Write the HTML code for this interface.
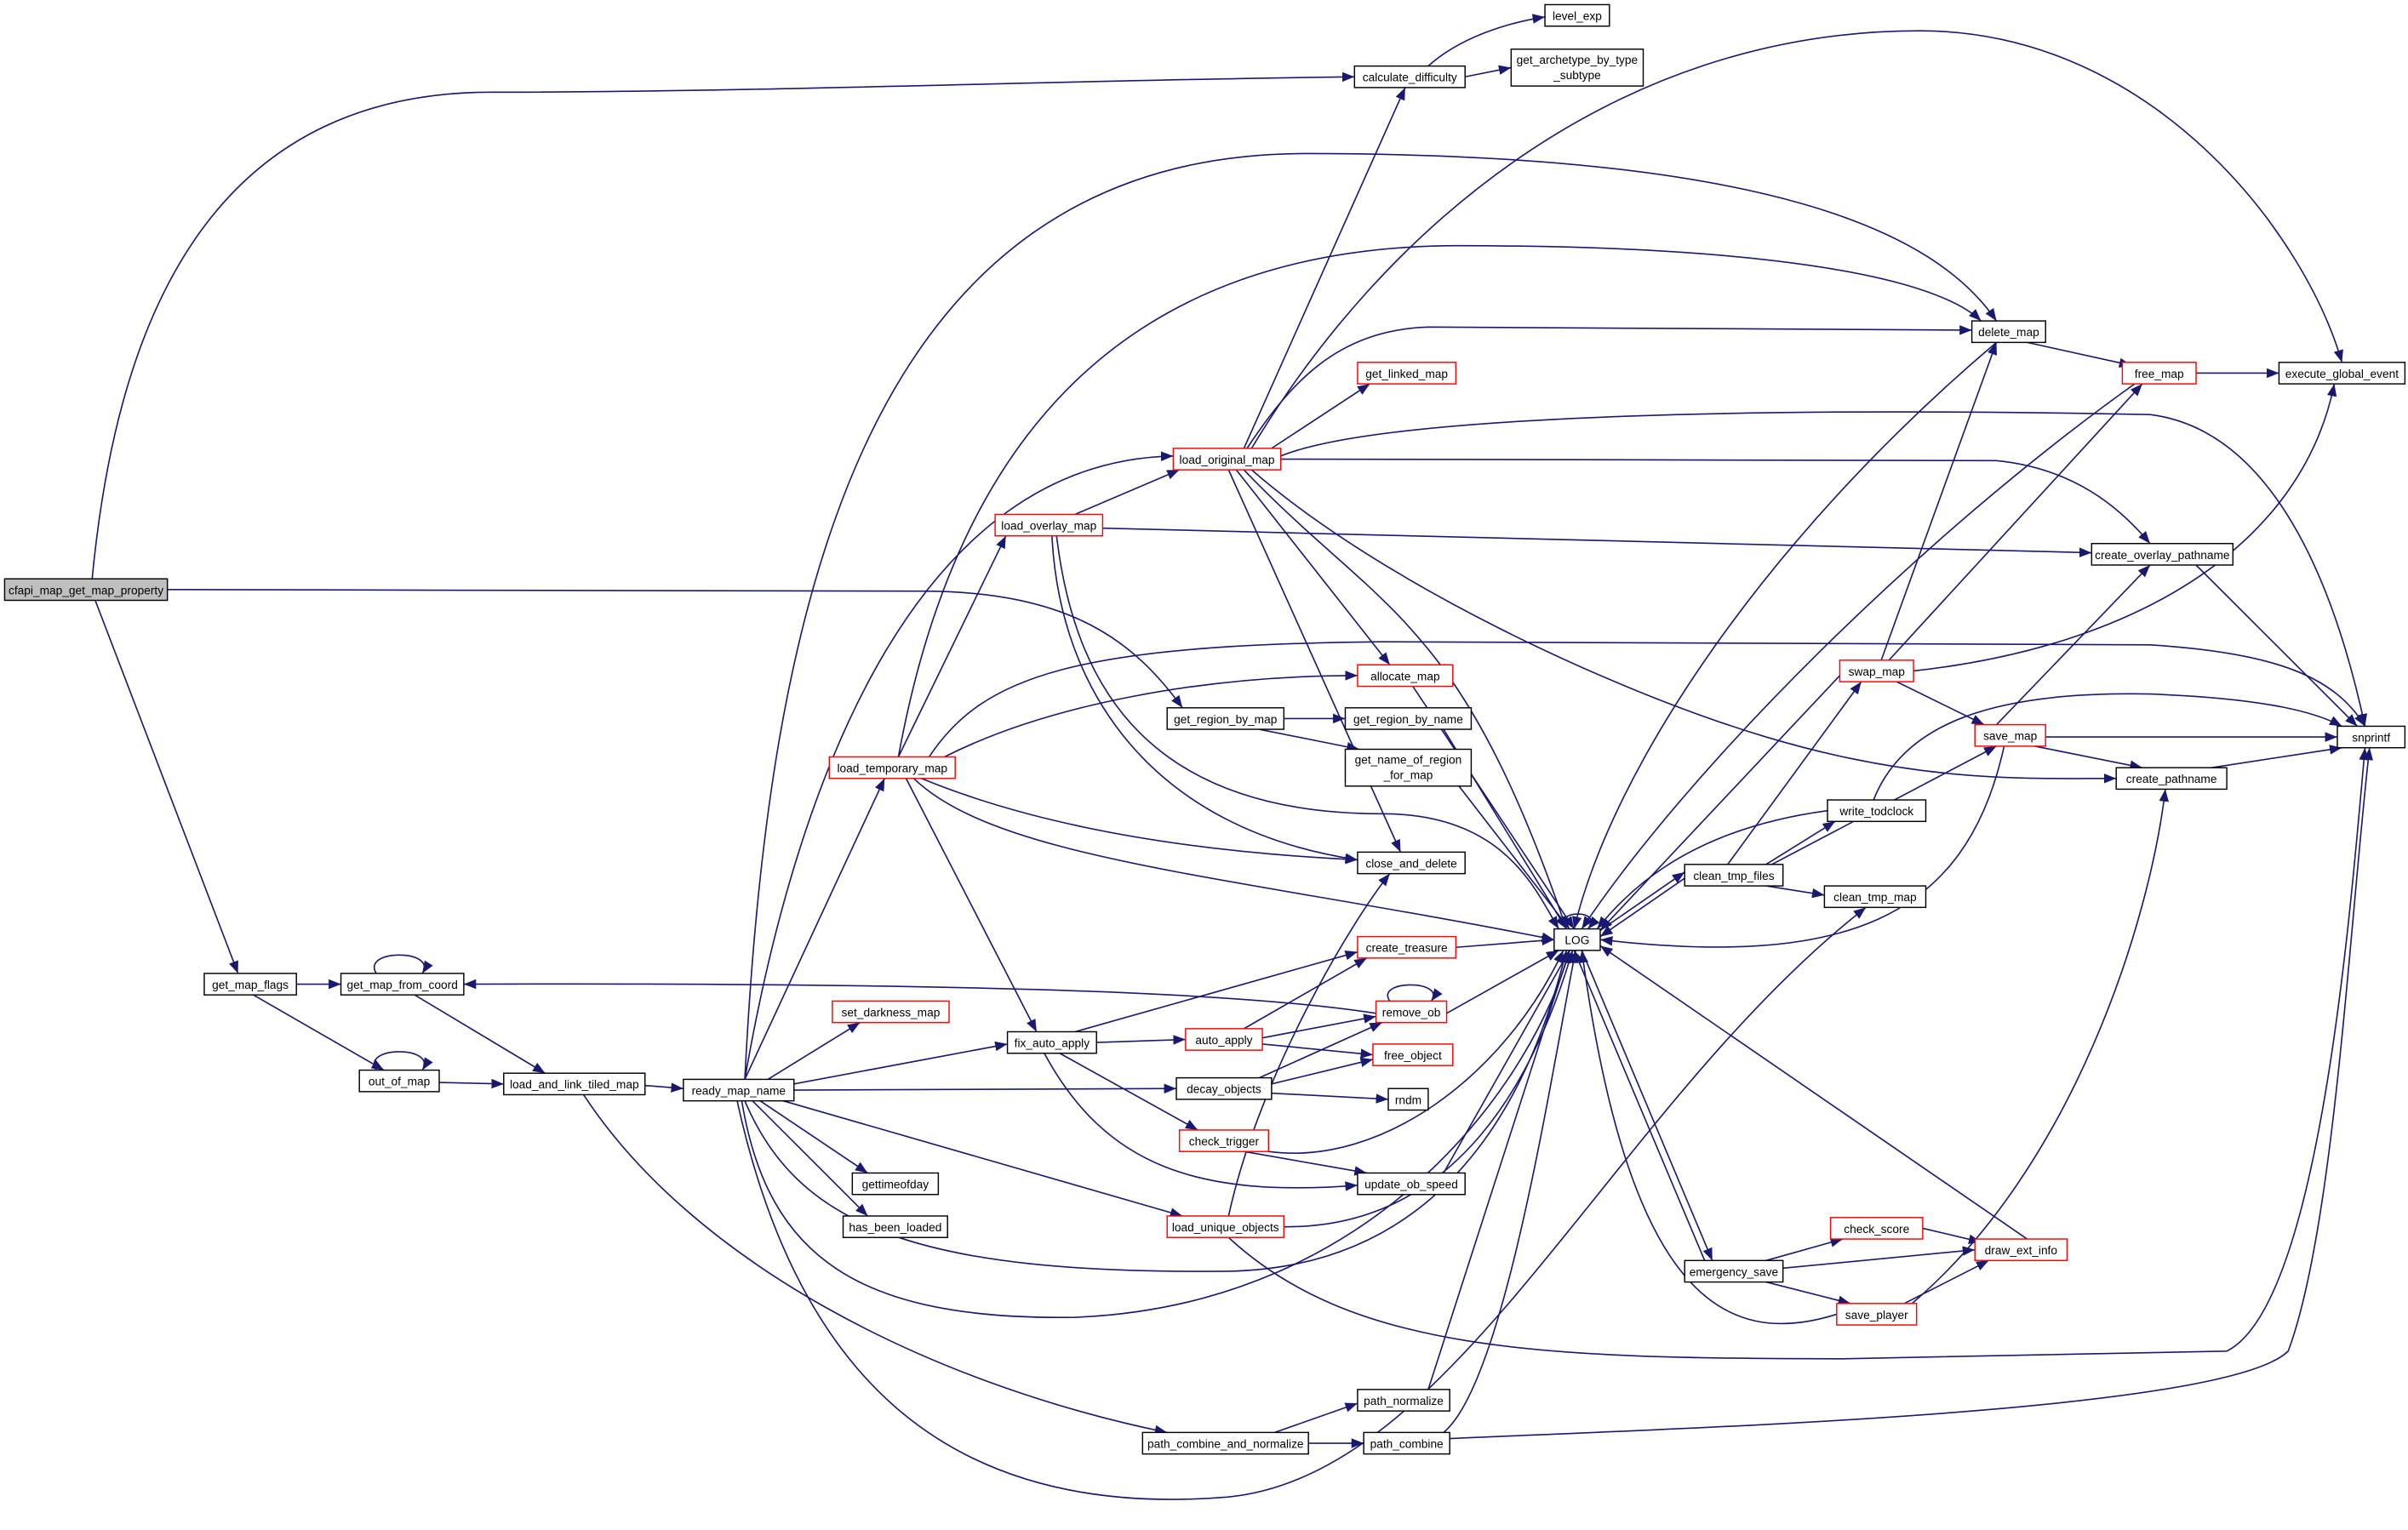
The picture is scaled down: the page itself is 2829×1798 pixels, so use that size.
<!DOCTYPE html>
<html><head><meta charset="utf-8"><style>
html,body{margin:0;padding:0;background:#fff;}
svg{display:block;}
text{font-family:"Liberation Sans",sans-serif;font-size:7.6px;fill:#000;}
.e{fill:none;stroke:#191970;stroke-width:0.9;marker-end:url(#a);}
.n{fill:#fff;stroke:#000;stroke-width:0.8;}
.r{fill:#fff;stroke:#ff0000;stroke-width:0.8;}
.g{fill:#bfbfbf;stroke:#000;stroke-width:0.8;}
</style></head><body>
<svg width="2829" height="1798" viewBox="0 0 1568 996.5" xmlns="http://www.w3.org/2000/svg">
<defs><marker id="a" viewBox="0 0 10 8" refX="10" refY="4" markerWidth="8" markerHeight="6.4" markerUnits="userSpaceOnUse" orient="auto"><path d="M0,0 L10,4 L0,8 z" fill="#191970"/></marker></defs>
<g>
<path class="e" d="M60,377 C75,220 130,60 320,60 C500,60 700,52 882,50"/>
<path class="e" d="M109,384 L600,385 C700,385 740,420 770,461"/>
<path class="e" d="M62,391 L155,634"/>
<path class="e" d="M930,43 C950,25 980,15 1006,11"/>
<path class="e" d="M954,50 L984,44"/>
<path class="e" d="M1320,223 L1388,238"/>
<path class="e" d="M1430,243 L1484,243"/>
<path class="e" d="M810,292 L915,57"/>
<path class="e" d="M485,703 C500,400 560,100 850,100 C1150,100 1260,150 1300,209"/>
<path class="e" d="M585,493 C620,300 720,160 950,160 C1150,160 1260,180 1290,209"/>
<path class="e" d="M812,292 C840,250 870,215 930,213 L1284,215"/>
<path class="e" d="M815,292 C900,150 1050,20 1250,20 C1400,20 1500,150 1525,236"/>
<path class="e" d="M828,292 L892,250"/>
<path class="e" d="M834,297 C900,270 1150,265 1400,270 C1480,280 1520,380 1540,473"/>
<path class="e" d="M834,299 L1300,300 C1350,305 1380,330 1400,354"/>
<path class="e" d="M815,306 C900,380 1050,450 1150,480 C1250,510 1320,507 1378,507"/>
<path class="e" d="M805,306 L905,433"/>
<path class="e" d="M810,306 C900,400 950,400 1020,605"/>
<path class="e" d="M800,306 L912,555"/>
<path class="e" d="M700,335 L768,306"/>
<path class="e" d="M718,344 L1362,360"/>
<path class="e" d="M685,349 C690,450 750,540 884,560"/>
<path class="e" d="M688,349 C700,450 750,530 900,530 C980,530 1000,580 1015,605"/>
<path class="e" d="M485,703 C520,500 600,300 764,297"/>
<path class="e" d="M585,493 L655,349"/>
<path class="e" d="M485,703 L576,507"/>
<path class="e" d="M615,493 C680,460 780,440 884,440"/>
<path class="e" d="M605,493 C640,440 700,420 900,418 L1400,420 C1480,425 1520,440 1540,473"/>
<path class="e" d="M600,507 C680,540 780,555 884,560"/>
<path class="e" d="M595,507 C650,560 800,570 1012,612"/>
<path class="e" d="M590,507 L675,672"/>
<path class="e" d="M836,468 L876,468"/>
<path class="e" d="M820,475 L885,488"/>
<path class="e" d="M940,475 L1020,605"/>
<path class="e" d="M950,512 L1022,605"/>
<path class="e" d="M920,447 L1025,605"/>
<path class="e" d="M1300,223 C1150,350 1050,500 1025,605"/>
<path class="e" d="M1390,250 C1250,350 1100,500 1030,605"/>
<path class="e" d="M1225,430 L1300,223"/>
<path class="e" d="M1230,430 L1395,250"/>
<path class="e" d="M1246,437 C1400,420 1500,350 1520,250"/>
<path class="e" d="M1235,444 L1292,472"/>
<path class="e" d="M1125,563 L1212,444"/>
<path class="e" d="M1198,440 L1042,606"/>
<path class="e" d="M1300,472 L1400,368"/>
<path class="e" d="M1332,480 L1522,480"/>
<path class="e" d="M1325,486 L1395,500"/>
<path class="e" d="M1305,486 C1280,600 1200,630 1042,612"/>
<path class="e" d="M1430,368 L1535,473"/>
<path class="e" d="M1440,500 L1525,487"/>
<path class="e" d="M1220,521 C1240,470 1300,450 1400,452 C1480,455 1510,465 1525,473"/>
<path class="e" d="M1150,563 L1195,535"/>
<path class="e" d="M1150,565 L1300,486"/>
<path class="e" d="M1150,577 L1188,583"/>
<path class="e" d="M1097,572 L1042,610"/>
<path class="e" d="M1042,606 L1097,568"/>
<path class="e" d="M1020,605 C1010,592 1045,592 1034,605"/>
<path class="e" d="M1030,619 L1115,821"/>
<path class="e" d="M1110,821 L1025,619"/>
<path class="e" d="M1190,528 C1100,540 1060,580 1040,605"/>
<path class="e" d="M948,617 L1012,612"/>
<path class="e" d="M942,660 L1015,619"/>
<path class="e" d="M905,652 C895,638 942,638 932,652"/>
<path class="e" d="M193,641 L222,641"/>
<path class="e" d="M165,648 L250,697"/>
<path class="e" d="M245,634 C235,618 285,618 275,634"/>
<path class="e" d="M270,648 L355,699"/>
<path class="e" d="M245,697 C235,681 285,681 275,697"/>
<path class="e" d="M286,705 L328,706"/>
<path class="e" d="M896,660 C800,645 600,640 302,641"/>
<path class="e" d="M420,707 L445,709"/>
<path class="e" d="M380,713 C450,820 600,900 760,933"/>
<path class="e" d="M500,703 L560,666"/>
<path class="e" d="M517,706 L656,680"/>
<path class="e" d="M517,710 L766,709"/>
<path class="e" d="M495,717 L565,764"/>
<path class="e" d="M490,717 L565,792"/>
<path class="e" d="M510,717 L770,792"/>
<path class="e" d="M485,717 C520,800 600,830 800,828 C950,825 1000,700 1020,619"/>
<path class="e" d="M483,717 C500,820 560,860 700,858 C900,850 1000,700 1022,619"/>
<path class="e" d="M480,717 C520,900 620,990 800,975 C950,960 1050,720 1215,591"/>
<path class="e" d="M800,806 C880,880 1000,885 1200,885 L1450,880 C1510,850 1530,600 1540,487"/>
<path class="e" d="M700,672 L884,620"/>
<path class="e" d="M714,679 L772,677"/>
<path class="e" d="M690,686 L780,736"/>
<path class="e" d="M680,686 C720,760 780,780 884,772"/>
<path class="e" d="M810,670 L890,624"/>
<path class="e" d="M822,676 L896,662"/>
<path class="e" d="M822,680 L894,687"/>
<path class="e" d="M820,702 L900,666"/>
<path class="e" d="M828,706 L894,690"/>
<path class="e" d="M828,712 L904,716"/>
<path class="e" d="M826,750 C900,760 980,700 1018,619"/>
<path class="e" d="M810,750 L890,764"/>
<path class="e" d="M940,764 L1022,619"/>
<path class="e" d="M800,792 C820,700 880,600 905,569"/>
<path class="e" d="M836,799 C950,800 1000,700 1024,619"/>
<path class="e" d="M1150,821 L1200,807"/>
<path class="e" d="M1161,826 L1286,814"/>
<path class="e" d="M1150,835 L1205,849"/>
<path class="e" d="M1252,800 L1290,809"/>
<path class="e" d="M1240,849 L1295,821"/>
<path class="e" d="M1320,807 L1042,616"/>
<path class="e" d="M1196,856 C1120,880 1060,840 1030,619"/>
<path class="e" d="M1245,849 C1350,760 1400,600 1410,514"/>
<path class="e" d="M830,933 L884,914"/>
<path class="e" d="M852,940 L888,940"/>
<path class="e" d="M930,905 L1022,619"/>
<path class="e" d="M940,933 C980,900 1010,700 1026,619"/>
<path class="e" d="M944,937 C1100,930 1450,920 1490,880 C1520,800 1530,600 1543,487"/>
</g>
<g text-anchor="middle">
<rect class="g" x="3" y="377" width="106" height="14"/><text x="56" y="387">cfapi_map_get_map_property</text>
<rect class="n" x="882" y="43" width="72" height="14"/><text x="918" y="53">calculate_difficulty</text>
<rect class="n" x="1006" y="3" width="42" height="14"/><text x="1027" y="13">level_exp</text>
<rect class="n" x="984" y="32" width="86" height="24"/><text x="1027" y="41.5">get_archetype_by_type</text><text x="1027" y="51.5">_subtype</text>
<rect class="n" x="1284" y="209" width="48" height="14"/><text x="1308" y="219">delete_map</text>
<rect class="n" x="1484" y="236" width="82" height="14"/><text x="1525" y="246">execute_global_event</text>
<rect class="r" x="1382" y="236" width="48" height="14"/><text x="1406" y="246">free_map</text>
<rect class="r" x="884" y="236" width="64" height="14"/><text x="916" y="246">get_linked_map</text>
<rect class="r" x="764" y="292" width="70" height="14"/><text x="799" y="302">load_original_map</text>
<rect class="r" x="648" y="335" width="70" height="14"/><text x="683" y="345">load_overlay_map</text>
<rect class="n" x="1362" y="354" width="92" height="14"/><text x="1408" y="364">create_overlay_pathname</text>
<rect class="r" x="884" y="433" width="62" height="14"/><text x="915" y="443">allocate_map</text>
<rect class="r" x="1198" y="430" width="48" height="14"/><text x="1222" y="440">swap_map</text>
<rect class="n" x="760" y="461" width="76" height="14"/><text x="798" y="471">get_region_by_map</text>
<rect class="n" x="876" y="461" width="82" height="14"/><text x="917" y="471">get_region_by_name</text>
<rect class="n" x="876" y="488" width="82" height="24"/><text x="917" y="497.5">get_name_of_region</text><text x="917" y="507.5">_for_map</text>
<rect class="r" x="540" y="493" width="82" height="14"/><text x="581" y="503">load_temporary_map</text>
<rect class="r" x="1286" y="472" width="46" height="14"/><text x="1309" y="482">save_map</text>
<rect class="n" x="1522" y="473" width="44" height="14"/><text x="1544" y="483">snprintf</text>
<rect class="n" x="1378" y="500" width="72" height="14"/><text x="1414" y="510">create_pathname</text>
<rect class="n" x="1190" y="521" width="64" height="14"/><text x="1222" y="531">write_todclock</text>
<rect class="n" x="884" y="555" width="70" height="14"/><text x="919" y="565">close_and_delete</text>
<rect class="n" x="1097" y="563" width="64" height="14"/><text x="1129" y="573">clean_tmp_files</text>
<rect class="n" x="1188" y="577" width="66" height="14"/><text x="1221" y="587">clean_tmp_map</text>
<rect class="r" x="884" y="610" width="64" height="14"/><text x="916" y="620">create_treasure</text>
<rect class="n" x="1012" y="605" width="30" height="14"/><text x="1027" y="615">LOG</text>
<rect class="n" x="133" y="634" width="60" height="14"/><text x="163" y="644">get_map_flags</text>
<rect class="n" x="222" y="634" width="80" height="14"/><text x="262" y="644">get_map_from_coord</text>
<rect class="r" x="896" y="652" width="46" height="14"/><text x="919" y="662">remove_ob</text>
<rect class="r" x="542" y="652" width="76" height="14"/><text x="580" y="662">set_darkness_map</text>
<rect class="n" x="656" y="672" width="58" height="14"/><text x="685" y="682">fix_auto_apply</text>
<rect class="r" x="772" y="670" width="50" height="14"/><text x="797" y="680">auto_apply</text>
<rect class="r" x="894" y="680" width="52" height="14"/><text x="920" y="690">free_object</text>
<rect class="n" x="234" y="697" width="52" height="14"/><text x="260" y="707">out_of_map</text>
<rect class="n" x="328" y="699" width="92" height="14"/><text x="374" y="709">load_and_link_tiled_map</text>
<rect class="n" x="445" y="703" width="72" height="14"/><text x="481" y="713">ready_map_name</text>
<rect class="n" x="766" y="702" width="62" height="14"/><text x="797" y="712">decay_objects</text>
<rect class="n" x="904" y="709" width="26" height="14"/><text x="917" y="719">rndm</text>
<rect class="r" x="768" y="736" width="58" height="14"/><text x="797" y="746">check_trigger</text>
<rect class="n" x="555" y="764" width="56" height="14"/><text x="583" y="774">gettimeofday</text>
<rect class="n" x="884" y="764" width="70" height="14"/><text x="919" y="774">update_ob_speed</text>
<rect class="n" x="549" y="792" width="68" height="14"/><text x="583" y="802">has_been_loaded</text>
<rect class="r" x="760" y="792" width="76" height="14"/><text x="798" y="802">load_unique_objects</text>
<rect class="r" x="1192" y="793" width="60" height="14"/><text x="1222" y="803">check_score</text>
<rect class="r" x="1286" y="807" width="60" height="14"/><text x="1316" y="817">draw_ext_info</text>
<rect class="n" x="1097" y="821" width="64" height="14"/><text x="1129" y="831">emergency_save</text>
<rect class="r" x="1196" y="849" width="52" height="14"/><text x="1222" y="859">save_player</text>
<rect class="n" x="884" y="905" width="60" height="14"/><text x="914" y="915">path_normalize</text>
<rect class="n" x="744" y="933" width="108" height="14"/><text x="798" y="943">path_combine_and_normalize</text>
<rect class="n" x="888" y="933" width="56" height="14"/><text x="916" y="943">path_combine</text>
</g>
</svg>
</body></html>
